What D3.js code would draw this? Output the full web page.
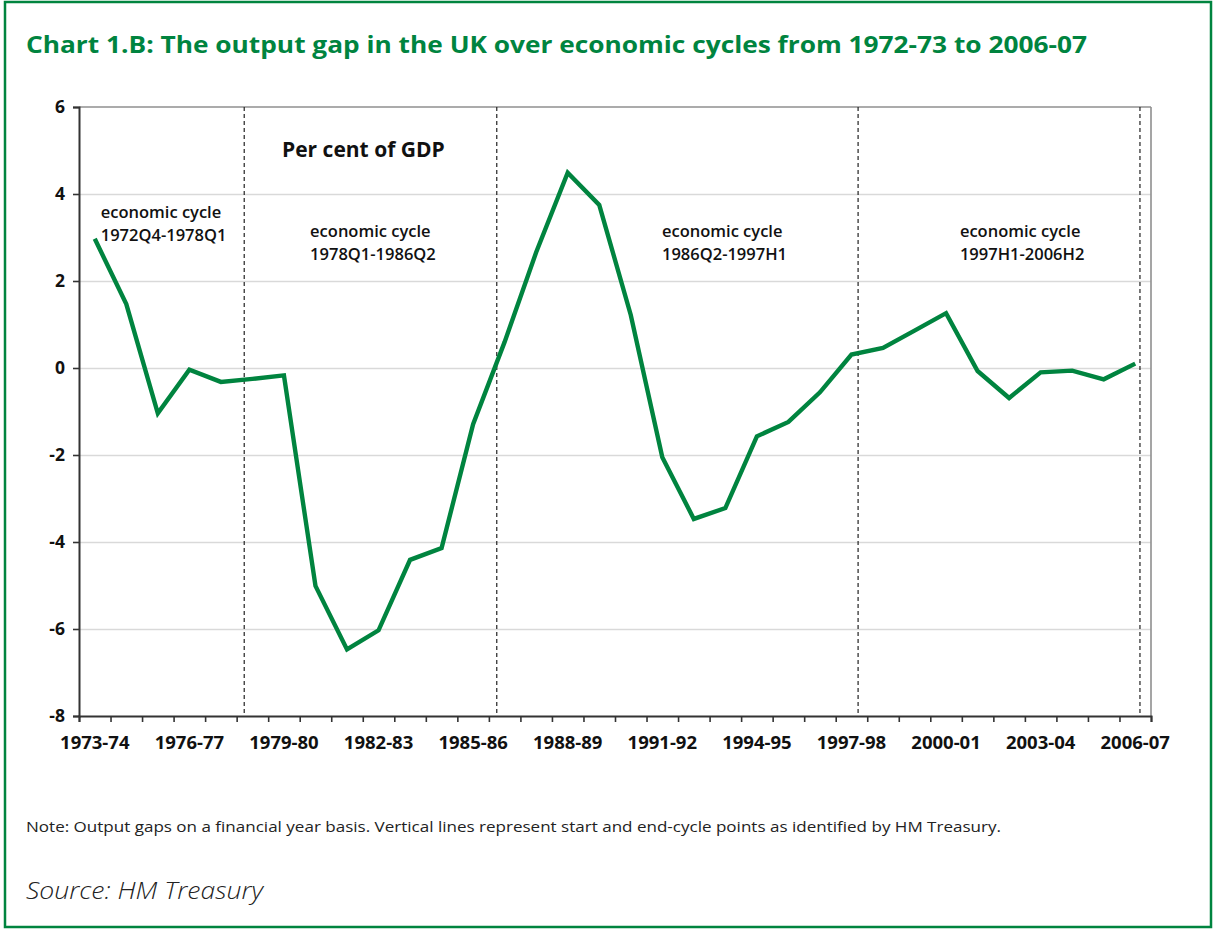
<!DOCTYPE html>
<html>
<head>
<meta charset="utf-8">
<script src="https://cdn.jsdelivr.net/npm/d3@7"></script>
<style>
  html, body { margin: 0; padding: 0; background: #fff; }
  svg { display: block; font-family: "Open Sans", "Noto Sans", sans-serif; }
</style>
</head>
<body>
<svg id="chart" width="1213" height="930"></svg>
<script>
// ---------------- data ----------------
const years = ["1973-74","1974-75","1975-76","1976-77","1977-78","1978-79","1979-80","1980-81",
  "1981-82","1982-83","1983-84","1984-85","1985-86","1986-87","1987-88","1988-89","1989-90",
  "1990-91","1991-92","1992-93","1993-94","1994-95","1995-96","1996-97","1997-98","1998-99",
  "1999-00","2000-01","2001-02","2002-03","2003-04","2004-05","2005-06","2006-07"];
const outputGap = [2.97,1.47,-1.04,-0.04,-0.32,-0.25,-0.17,-5.01,-6.47,-6.03,-4.41,-4.14,-1.29,
  0.60,2.66,4.49,3.75,1.22,-2.05,-3.47,-3.22,-1.57,-1.24,-0.56,0.31,0.46,0.86,1.26,-0.07,-0.69,
  -0.10,-0.06,-0.26,0.10];
const xTickLabels = ["1973-74","1976-77","1979-80","1982-83","1985-86","1988-89","1991-92",
  "1994-95","1997-98","2000-01","2003-04","2006-07"];
const yTicks = [-8,-6,-4,-2,0,2,4,6];
// cycle boundary points, in financial-year units from the start of 1973-74
const cycleBoundaryNames = ["1978Q1","1986Q2","1997H1","2006H2"];
const cycleBoundaryPos = [5.24, 13.25, 24.71, 33.65];
const cycleLabels = [["economic cycle","1972Q4-1978Q1"],["economic cycle","1978Q1-1986Q2"],
  ["economic cycle","1986Q2-1997H1"],["economic cycle","1997H1-2006H2"]];
const titleText = "Chart 1.B: The output gap in the UK over economic cycles from 1972-73 to 2006-07";
const unitText = "Per cent of GDP";
const noteText = "Note: Output gaps on a financial year basis. Vertical lines represent start and end-cycle points as identified by HM Treasury.";
const sourceText = "Source: HM Treasury";

// ---------------- layout ----------------
const GREEN = "#00843f";
const FONT = "'Open Sans', 'Noto Sans', sans-serif";
const plot = { left: 79, right: 1151, top: 107, bottom: 716 };
const cycleLabelPos = [[0.69, 3.45], [7.33, 3.02], [18.49, 3.02], [27.94, 3.02]];

const svg = d3.select("#chart");

// outer frame
svg.append("rect").attr("x", 5).attr("y", 2).attr("width", 1206).attr("height", 925)
  .attr("fill", "none").attr("stroke", GREEN).attr("stroke-width", 2.5);

// scales
const x = d3.scaleBand().domain(years).range([plot.left, plot.right]).padding(0);
const xLin = d3.scaleLinear().domain([0, years.length]).range([plot.left, plot.right]);
const y = d3.scaleLinear().domain([-8, 6]).range([plot.bottom, plot.top]);

// gridlines
const grid = svg.append("g").attr("transform", `translate(${plot.left},0)`)
  .call(d3.axisLeft(y).tickValues(yTicks.filter(d => d > -8 && d < 6))
    .tickSize(-(plot.right - plot.left)).tickFormat(""));
grid.select(".domain").remove();
grid.selectAll("line").attr("stroke", "#d9d9d9").attr("stroke-width", 1.6);

// top & right frame of plot
svg.append("line").attr("x1", plot.left).attr("x2", plot.right).attr("y1", plot.top).attr("y2", plot.top)
  .attr("stroke", "#8f8f8f").attr("stroke-width", 1.6);
svg.append("line").attr("x1", plot.right).attr("x2", plot.right).attr("y1", plot.top).attr("y2", plot.bottom)
  .attr("stroke", "#8f8f8f").attr("stroke-width", 1.6);

// cycle boundary dashed lines
svg.append("g").selectAll("line").data(cycleBoundaryPos).join("line")
  .attr("x1", d => xLin(d)).attr("x2", d => xLin(d))
  .attr("y1", plot.top).attr("y2", plot.bottom)
  .attr("stroke", "#222").attr("stroke-width", 1.2).attr("stroke-dasharray", "4,3");

// y axis
const yAxis = svg.append("g").attr("transform", `translate(${plot.left},0)`)
  .call(d3.axisLeft(y).tickValues(yTicks).tickSize(6).tickPadding(8).tickFormat(d => String(d)));
yAxis.attr("font-size", null).attr("font-family", null);
yAxis.select(".domain").attr("stroke", "#333").attr("stroke-width", 2);
yAxis.selectAll(".tick line").attr("stroke", "#333").attr("stroke-width", 1.6);
yAxis.selectAll("text").style("font-size", "17.5px").style("font-weight", "700").attr("fill", "#111")
  .style("font-family", FONT);

// x axis: ticks at category boundaries
const xTicksAxis = svg.append("g").attr("transform", `translate(0,${plot.bottom})`)
  .call(d3.axisBottom(xLin).tickValues(d3.range(0, years.length + 1)).tickSize(6).tickFormat(""));
xTicksAxis.select(".domain").attr("stroke", "#333").attr("stroke-width", 2);
xTicksAxis.selectAll(".tick line").attr("stroke", "#333").attr("stroke-width", 1.6);

// x labels centered on categories
const xAxis = svg.append("g").attr("transform", `translate(0,${plot.bottom})`)
  .call(d3.axisBottom(x).tickValues(xTickLabels).tickSize(0).tickPadding(20));
xAxis.attr("font-size", null).attr("font-family", null);
xAxis.select(".domain").remove();
xAxis.selectAll("text").style("font-size", "18.5px").style("font-weight", "700").attr("fill", "#111")
  .style("font-family", FONT);

// line
const line = d3.line()
  .x((d, i) => x(years[i]) + x.bandwidth() / 2)
  .y(d => y(d));
svg.append("path").datum(outputGap).attr("d", line)
  .attr("fill", "none").attr("stroke", GREEN).attr("stroke-width", 4.4)
  .attr("stroke-linejoin", "miter").attr("stroke-miterlimit", 10);

// cycle labels
const cl = svg.append("g").selectAll("text").data(cycleLabels).join("text")
  .attr("x", (d, i) => xLin(cycleLabelPos[i][0]))
  .attr("y", (d, i) => y(cycleLabelPos[i][1]))
  .style("font-size", "16.5px").style("font-weight", "600").attr("fill", "#111");
cl.each(function (d, i) {
  const t = d3.select(this);
  d.forEach((s, j) => {
    t.append("tspan").attr("x", xLin(cycleLabelPos[i][0])).attr("dy", j === 0 ? 0 : 23).text(s);
  });
});

// unit label
svg.append("text").attr("x", 282).attr("y", 157).text(unitText)
  .style("font-size", "21px").style("font-weight", "700").attr("fill", "#111");

// title / note / source
function fit(sel, w) {
  const n = sel.node();
  const len = n.getComputedTextLength();
  if (Math.abs(len - w) > 2) sel.attr("textLength", w).attr("lengthAdjust", "spacingAndGlyphs");
}
const title = svg.append("text").attr("x", 26).attr("y", 53).text(titleText)
  .style("font-size", "23px").style("font-weight", "700").attr("fill", GREEN);
fit(title, 1061);

const note = svg.append("text").attr("x", 26).attr("y", 832).text(noteText)
  .style("font-size", "14px").attr("fill", "#222");
fit(note, 975);

const source = svg.append("text").attr("x", 26).attr("y", 899).text(sourceText)
  .style("font-size", "24px").style("font-style", "italic").style("font-weight", "300").attr("fill", "#222");
fit(source, 237);
</script>
</body>
</html>
